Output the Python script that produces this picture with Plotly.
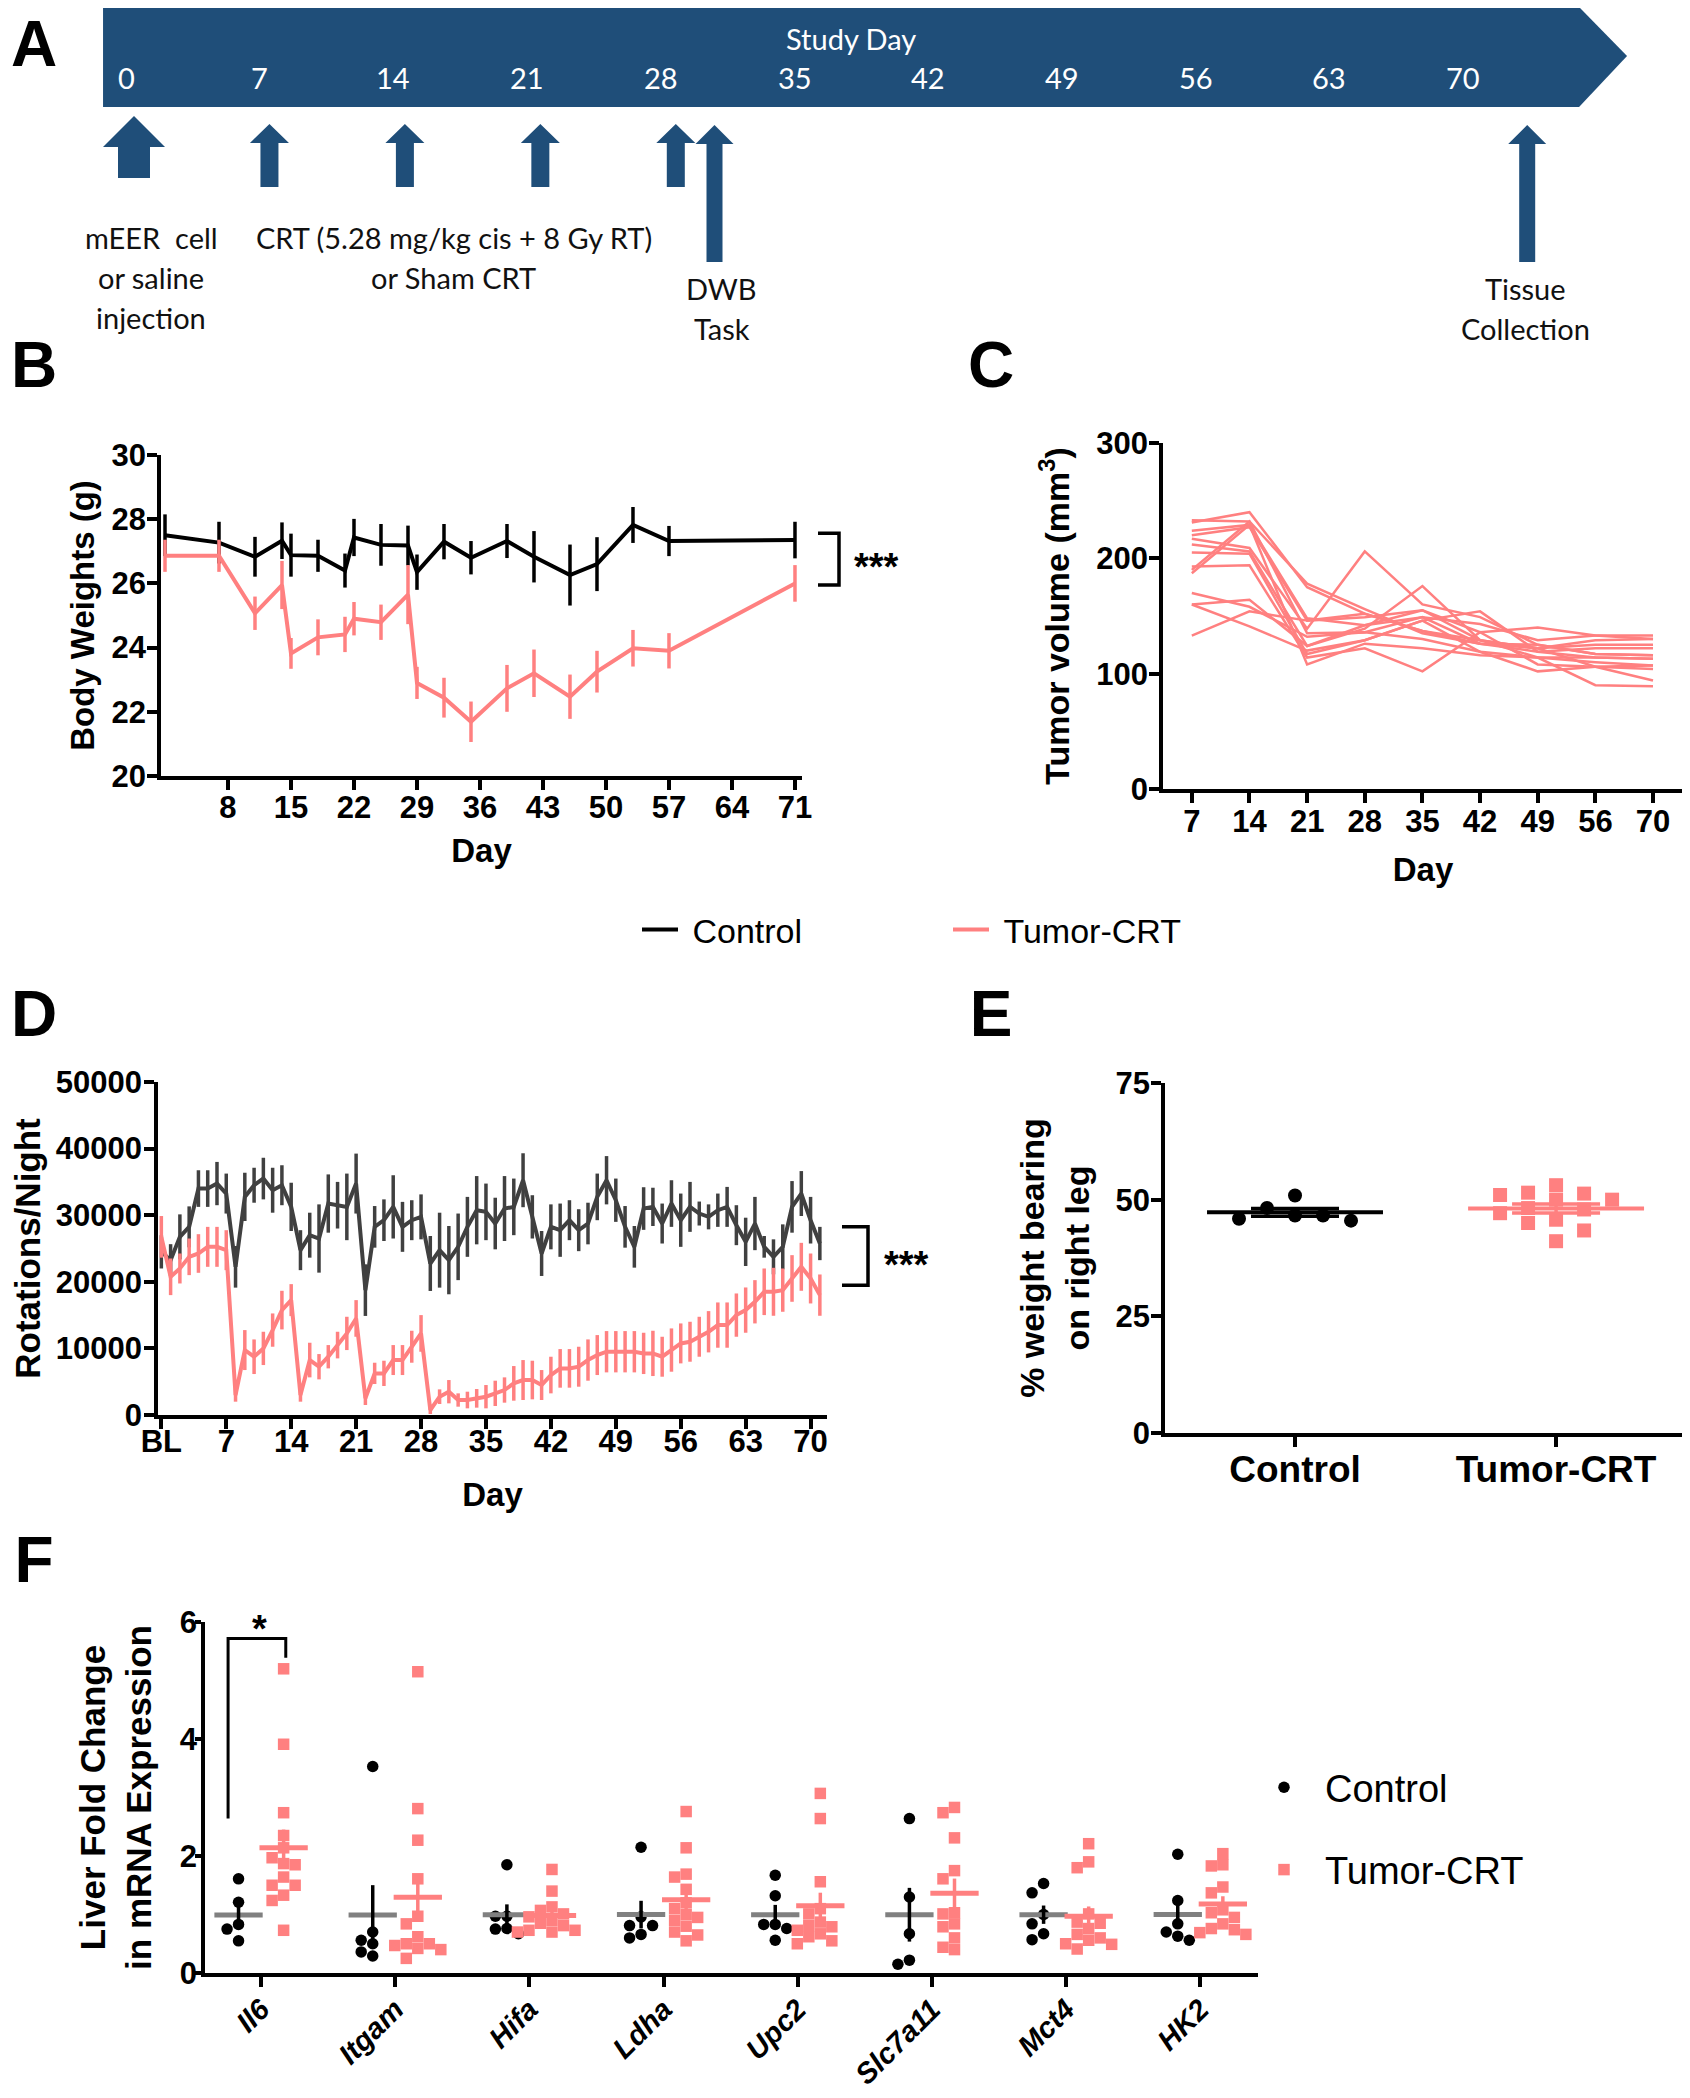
import numpy as np
import plotly.graph_objects as go

W, H = 1690, 2098
OFF = 8                       # browser body margin
FW, FH = W - OFF, H - OFF     # figure size so the page fits the window
PINK = '#FF8080'
DARK = '#404040'
GRAY = '#808080'
BLUE = '#1F4E79'
FONT = 'Liberation Sans, Arial, sans-serif'
NB = '\u00a0'

# ---------------- data ----------------
# A: study timeline (days)
timeline_days = [0, 7, 14, 21, 28, 35, 42, 49, 56, 63, 70]
injection_day = 0
crt_days = [7, 14, 21, 28]
dwb_day = 30
tissue_day = 72

# B: body weights (g), mean and SEM
bw_days = [1, 7, 11, 14, 15, 18, 21, 22, 25, 28, 29, 32, 35, 39, 42, 46, 49, 53, 57, 71]
bw_ctrl = [27.5, 27.27, 26.83, 27.33, 26.88, 26.86, 26.4, 27.43, 27.2, 27.18,
           26.35, 27.3, 26.8, 27.32, 26.83, 26.26, 26.6, 27.82, 27.32, 27.35]
bw_ctrl_sem = [0.65, 0.65, 0.62, 0.57, 0.67, 0.5, 0.53, 0.58, 0.65, 0.62,
               0.55, 0.55, 0.52, 0.53, 0.8, 0.95, 0.84, 0.56, 0.47, 0.57]
bw_tumor = [26.86, 26.86, 25.07, 25.95, 23.82, 24.32, 24.41, 24.9, 24.79, 25.65,
            22.9, 22.44, 21.69, 22.73, 23.2, 22.47, 23.25, 23.98, 23.9, 26.0]
bw_tumor_sem = [0.5, 0.5, 0.52, 0.75, 0.48, 0.56, 0.55, 0.52, 0.55, 0.92,
                0.5, 0.62, 0.63, 0.73, 0.74, 0.69, 0.65, 0.57, 0.55, 0.57]

# C: individual tumor volumes (mm3)
tv_days = ['7', '14', '21', '28', '35', '42', '49', '56', '70']
tumor_volumes = [
    [233, 232, 178, 156, 135, 126, 119, 122, 122],
    [231, 240, 175, 152, 137, 129, 122, 125, 125],
    [224, 229, 148, 142, 149, 143, 129, 133, 133],
    [220, 227, 146, 149, 155, 136, 140, 133, 130],
    [217, 209, 139, 206, 160, 149, 125, 117, 116],
    [212, 206, 124, 139, 176, 129, 114, 110, 107],
    [205, 204, 117, 129, 146, 154, 119, 114, 113],
    [193, 194, 114, 122, 102, 136, 108, 106, 104],
    [190, 232, 135, 136, 130, 119, 102, 106, 107],
    [187, 229, 108, 126, 122, 116, 114, 90, 89],
    [170, 158, 132, 136, 149, 126, 122, 129, 130],
    [160, 164, 124, 142, 155, 129, 122, 106, 94],
    [133, 154, 146, 152, 137, 126, 125, 117, 116],
    [160, 141, 120, 129, 146, 119, 114, 114, 113],
]

# D: wheel rotations per night, mean and SEM (day 0 = baseline)
wheel_days = list(range(72))
wheel_tickvals = [0, 7, 14, 21, 28, 35, 42, 49, 56, 63, 70]
wheel_ticktext = ['BL', '7', '14', '21', '28', '35', '42', '49', '56', '63', '70']
wheel_ctrl = [24500, 23250, 26750, 28250, 34000, 34000, 34750, 33250, 22250, 32750,
              34500, 35500, 33750, 34500, 31250, 24750, 27000, 26500, 31750, 31500,
              31250, 34750, 18750, 28250, 29250, 31250, 28250, 29250, 29750, 22750,
              24750, 23250, 25250, 28250, 30750, 30500, 28750, 31000, 31250, 35250,
              29750, 24250, 28250, 27750, 29250, 27750, 28750, 32750, 35250, 32250,
              28250, 25250, 31000, 31250, 28750, 31750, 29250, 31250, 30250, 29750,
              30750, 31250, 28500, 26000, 28750, 25250, 23750, 25250, 31250, 33250,
              29250, 25750]
wheel_ctrl_sem = [2500, 2400, 3375, 3075, 2750, 2750, 3250, 3000, 3125, 3625,
                  2625, 3125, 3375, 3000, 3625, 3000, 3375, 5125, 4375, 3500,
                  5000, 4500, 3875, 3125, 3125, 4750, 3750, 3000, 3375, 4125,
                  5625, 5125, 5000, 4500, 5125, 4250, 3875, 4875, 4250, 4050,
                  3250, 3375, 3375, 4000, 3000, 3150, 3125, 3500, 3625, 3250,
                  3125, 3125, 3200, 2875, 3000, 3500, 4000, 3750, 1800, 1875,
                  2500, 3000, 3000, 3625, 4000, 1625, 2625, 3375, 3875, 3375,
                  3500, 2500]
wheel_tumor = [26750, 20750, 22000, 23750, 24250, 25250, 25250, 24750,
               3000, 9750, 8750, 10000, 12750, 15750, 17250,
               3000, 8250, 7250, 8750, 10500, 12250, 14500,
               2500, 6250, 6250, 8250, 8250, 10250, 12250,
               750, 2750, 3500, 2250, 2250, 2500, 2750, 3250, 3750, 4750, 5250, 5250, 4500,
               6000, 7000, 7000, 7250, 8250, 9000, 9500, 9500, 9500, 9500,
               9250, 9250, 8750, 9750, 10750, 11000, 11750, 12500, 13500, 13500,
               15000, 15750, 17000, 18500, 18500, 18750, 20500, 22250, 20500, 18000]
wheel_tumor_sem = [3125, 2750, 2250, 2750, 2900, 3000, 3000, 3000,
                   1000, 3000, 2600, 2500, 2500, 2900, 2400,
                   1000, 2600, 1900, 1750, 2000, 2500, 2750,
                   1000, 1600, 1900, 2250, 2250, 2400, 2750,
                   600, 1100, 1750, 1000, 1250, 1400, 1750, 1900, 1900, 2600, 3000, 2900, 2250,
                   2750, 2900, 2900, 3000, 3100, 3000, 3100, 3100, 3100, 3100,
                   3100, 3400, 3000, 3250, 3000, 3000, 3000, 3100, 3400, 3400,
                   3250, 3400, 3250, 3500, 3600, 3250, 3500, 3600, 3750, 3100]

# E: dynamic weight bearing (% on right leg)
dwb_groups = ['Control', 'Tumor-CRT']
dwb_ctrl = [50.9, 48.2, 46.6, 46.6, 45.9, 45.5]
dwb_tumor = [53.1, 51.5, 51.3, 51.0, 50.0, 50.0, 48.2, 47.9, 47.1, 45.7, 45.0, 43.4, 41.1]

# F: liver fold change in mRNA expression
genes = ['Il6', 'Itgam', 'Hifa', 'Ldha', 'Upc2', 'Slc7a11', 'Mct4', 'HK2']
liver_ctrl = [
    [1.61, 1.21, 0.83, 0.75, 0.55],
    [3.53, 0.70, 0.56, 0.50, 0.36, 0.29],
    [1.85, 0.97, 0.97, 0.76, 0.75, 0.67],
    [2.15, 0.96, 0.81, 0.81, 0.66, 0.60],
    [1.67, 1.32, 0.83, 0.83, 0.76, 0.56],
    [2.64, 1.30, 0.67, 0.22, 0.15],
    [1.53, 1.37, 1.00, 0.84, 0.67, 0.57],
    [2.03, 1.24, 0.84, 0.70, 0.63, 0.56],
]
liver_tumor = [
    [5.20, 3.91, 2.74, 2.35, 2.14, 1.97, 1.87, 1.85, 1.64, 1.50, 1.50, 1.33, 1.24, 0.73],
    [5.15, 2.81, 2.27, 1.61, 0.97, 0.84, 0.62, 0.50, 0.50, 0.47, 0.42, 0.40, 0.25],
    [1.77, 1.40, 1.13, 1.07, 1.01, 0.96, 0.90, 0.85, 0.81, 0.73, 0.73, 0.70, 0.70],
    [2.76, 2.14, 1.69, 1.64, 1.43, 1.20, 1.10, 1.00, 0.95, 0.90, 0.80, 0.70, 0.65, 0.55],
    [3.07, 2.64, 1.56, 1.10, 1.01, 0.87, 0.81, 0.79, 0.73, 0.67, 0.62, 0.55, 0.50],
    [2.83, 2.74, 2.31, 1.75, 1.61, 1.03, 1.01, 0.84, 0.79, 0.60, 0.44, 0.40],
    [2.21, 1.90, 1.80, 1.01, 0.87, 0.85, 0.76, 0.66, 0.60, 0.56, 0.50, 0.49, 0.41],
    [2.04, 1.85, 1.83, 1.47, 1.37, 1.08, 1.03, 0.95, 0.84, 0.76, 0.74, 0.69, 0.66],
]


# page pixel -> paper fraction
def px_x(x):
    return (x - OFF) / FW


def px_y(y):
    return 1 - (y - OFF) / FH


def dom_x(x0, x1):
    return [px_x(x0), min(1.0, px_x(x1))]


def dom_y(top, bottom):
    return [px_y(bottom), min(1.0, px_y(top))]


def swarm(vals, px_per_unit, diam, step_px, px_per_x):
    # simple column beeswarm: stack overlapping points side by side
    order = sorted(range(len(vals)), key=lambda k: -vals[k])
    cols = {}
    offs = [0.0] * len(vals)
    for k in order:
        v = vals[k]
        for c in [0, -1, 1, -2, 2, -3, 3, -4, 4, -5, 5]:
            if all(abs(v - u) * px_per_unit >= diam for u in cols.get(c, [])):
                break
        cols.setdefault(c, []).append(v)
        offs[k] = c * step_px / px_per_x
    return offs


def mean_sem(v):
    v = np.asarray(v, dtype=float)
    return v.mean(), v.std(ddof=1) / np.sqrt(len(v))


def axis(**kw):
    base = dict(showline=True, linewidth=3.5, linecolor='black', ticks='outside', ticklen=10,
                tickwidth=3.5, tickcolor='black', showgrid=False, zeroline=False,
                tickfont=dict(family=FONT, size=31, color='black', weight='bold'))
    base.update(kw)
    return base


def title(text, size=34, standoff=15):
    return dict(text='<b>' + text + '</b>', font=dict(family=FONT, size=size, color='black'),
                standoff=standoff)


fig = go.Figure()

# ---------------- A: timeline ----------------
PX_DAY = 19.35
banner_x = [-1.6, 74.68, 77.16, 74.68, -1.6, -1.6]
banner_y = [7, 7, 56, 107, 107, 7]
fig.add_trace(go.Scatter(x=banner_x, y=banner_y, mode='lines', fill='toself', fillcolor=BLUE,
                         line=dict(color=BLUE, width=0), xaxis='x6', yaxis='y6',
                         showlegend=False, hoverinfo='skip'))


def arrow(day, top, base, bottom, head_half, shaft_half):
    hw = head_half / PX_DAY
    sw = shaft_half / PX_DAY
    xs = [day, day + hw, day + sw, day + sw, day - sw, day - sw, day - hw, day]
    ys = [top, base, base, bottom, bottom, base, base, top]
    return go.Scatter(x=xs, y=ys, mode='lines', fill='toself', fillcolor=BLUE,
                      line=dict(color=BLUE, width=0), xaxis='x6', yaxis='y6',
                      showlegend=False, hoverinfo='skip')


fig.add_trace(arrow(injection_day, 116, 147, 178, 31, 16))
for d in crt_days:
    fig.add_trace(arrow(d, 124, 143, 187, 19.5, 9))
for d in [dwb_day, tissue_day]:
    fig.add_trace(arrow(d, 125, 144, 262, 19, 8))

annotations = []
LATO = 'Lato, Open Sans, sans-serif'
for d in timeline_days:
    annotations.append(dict(x=d, y=77, xref='x6', yref='y6', text=str(d), showarrow=False,
                            xanchor='center', yanchor='middle', xshift=-8 - 0.25 * d,
                            font=dict(family=LATO, size=29, color='white')))
annotations.append(dict(x=px_x(851), y=38, xref='paper', yref='y6', text='Study Day', showarrow=False,
                        xanchor='center', yanchor='middle',
                        font=dict(family=LATO, size=29, color='white')))
timeline_text = [
    (injection_day, 17, 237, ['mEER  cell', 'or saline', 'injection']),
    (crt_days[1], 49, 237, ['CRT (5.28 mg/kg cis + 8 Gy RT)', 'or Sham CRT']),
    (dwb_day, 7, 288, ['DWB', 'Task']),
    (tissue_day, -2, 288, ['Tissue', 'Collection']),
]
for d, shift, y0, lines in timeline_text:
    for k, s in enumerate(lines):
        annotations.append(dict(x=d, y=y0 + 40 * k, xref='x6', yref='y6', text=s,
                                showarrow=False, xshift=shift, xanchor='center', yanchor='middle',
                                font=dict(family=LATO, size=29, color='#111111')))

# ---------------- B: body weights ----------------
fig.add_trace(go.Scatter(x=bw_days, y=bw_ctrl, mode='lines', name=NB + 'Control', legend='legend',
                         line=dict(color='black', width=4),
                         error_y=dict(type='data', array=bw_ctrl_sem, width=0, thickness=3.5,
                                      color='black'),
                         xaxis='x', yaxis='y'))
fig.add_trace(go.Scatter(x=bw_days, y=bw_tumor, mode='lines', name=NB + 'Tumor-CRT', legend='legend',
                         line=dict(color=PINK, width=4),
                         error_y=dict(type='data', array=bw_tumor_sem, width=0, thickness=3.5,
                                      color=PINK),
                         xaxis='x', yaxis='y'))

# ---------------- C: tumor volumes ----------------
for vol in tumor_volumes:
    fig.add_trace(go.Scatter(x=tv_days, y=vol, mode='lines', line=dict(color=PINK, width=2.5),
                             showlegend=False, xaxis='x2', yaxis='y2'))

# ---------------- D: wheel running ----------------
fig.add_trace(go.Scatter(x=wheel_days, y=wheel_ctrl, mode='lines', showlegend=False,
                         line=dict(color=DARK, width=4),
                         error_y=dict(type='data', array=wheel_ctrl_sem, width=0, thickness=3.5,
                                      color=DARK),
                         xaxis='x3', yaxis='y3'))
fig.add_trace(go.Scatter(x=wheel_days, y=wheel_tumor, mode='lines', showlegend=False,
                         line=dict(color=PINK, width=4),
                         error_y=dict(type='data', array=wheel_tumor_sem, width=0, thickness=3.5,
                                      color=PINK),
                         xaxis='x3', yaxis='y3'))

# ---------------- E: weight bearing ----------------
E_PXY = 350 / 75.0
E_PXX = 261.0
for gi, (vals, col, sym, size) in enumerate([(dwb_ctrl, 'black', 'circle', 14),
                                             (dwb_tumor, PINK, 'square', 14)]):
    offs = swarm(vals, E_PXY, 14, 28, E_PXX)
    fig.add_trace(go.Scatter(x=[gi + o for o in offs], y=vals, mode='markers', showlegend=False,
                             marker=dict(color=col, symbol=sym, size=size, line=dict(width=0)),
                             xaxis='x4', yaxis='y4'))
    m, s = mean_sem(vals)
    fig.add_trace(go.Scatter(x=[gi - 0.337, gi + 0.337], y=[m, m], mode='lines', showlegend=False,
                             line=dict(color=col, width=4), xaxis='x4', yaxis='y4'))
    fig.add_trace(go.Scatter(x=[gi], y=[m], mode='markers', showlegend=False,
                             marker=dict(size=1, opacity=0),
                             error_y=dict(type='data', array=[s], width=44, thickness=3.5, color=col),
                             xaxis='x4', yaxis='y4'))

# ---------------- F: liver mRNA ----------------
F_PXY = 351 / 6.0
F_PXX = 134.1
F_OFF = 0.168
groups = [(liver_ctrl, 'black', 'circle', 'Control', -F_OFF, GRAY, 'black'),
          (liver_tumor, PINK, 'square', 'Tumor-CRT', F_OFF, PINK, PINK)]
for data, col, sym, name, off, mcol, ecol in groups:
    xs, ys, mx, my, ex, ey, es = [], [], [], [], [], [], []
    for i, vals in enumerate(data):
        for v, o in zip(vals, swarm(vals, F_PXY, 11, 11.5, F_PXX)):
            xs.append(i + off + o)
            ys.append(v)
        m, s = mean_sem(vals)
        mx += [i + off - 0.18, i + off + 0.18, None]
        my += [m, m, None]
        ex.append(i + off)
        ey.append(m)
        es.append(s)
    fig.add_trace(go.Scatter(x=xs, y=ys, mode='markers', name=name, legend='legend2',
                             legendgroup=name,
                             marker=dict(color=col, symbol=sym, size=11.5, line=dict(width=0)),
                             xaxis='x5', yaxis='y5'))
    fig.add_trace(go.Scatter(x=mx, y=my, mode='lines', showlegend=False,
                             line=dict(color=mcol, width=5), xaxis='x5', yaxis='y5'))
    fig.add_trace(go.Scatter(x=ex, y=ey, mode='markers', showlegend=False,
                             marker=dict(size=1, opacity=0),
                             error_y=dict(type='data', array=es, width=0, thickness=3.5, color=ecol),
                             xaxis='x5', yaxis='y5'))

# ---------------- panel letters & significance ----------------
for letter, x, y in [('A', 34, 44), ('B', 34, 365), ('C', 991, 365),
                     ('D', 34, 1014), ('E', 991, 1014), ('F', 34, 1560)]:
    annotations.append(dict(x=px_x(x), y=px_y(y), xref='paper', yref='paper', text='<b>' + letter + '</b>',
                            xanchor='center', yanchor='middle', showarrow=False, width=52, height=56,
                            font=dict(family=FONT, size=64, color='black')))

annotations.append(dict(x=px_x(876), y=26.5, xref='paper', yref='y', text='<b>***</b>', showarrow=False,
                        xanchor='center', yanchor='middle', font=dict(family=FONT, size=38, color='black')))
annotations.append(dict(x=px_x(906), y=22500, xref='paper', yref='y3', text='<b>***</b>', showarrow=False,
                        xanchor='center', yanchor='middle', font=dict(family=FONT, size=38, color='black')))
annotations.append(dict(x=-0.015, y=5.88, xref='x5', yref='y5', text='<b>*</b>', showarrow=False,
                        xanchor='center', yanchor='middle', font=dict(family=FONT, size=38, color='black')))

shapes = [
    dict(type='path', xref='paper', yref='y',
         path='M {a},27.56 L {b},27.56 L {b},25.95 L {a},25.95'.format(a=px_x(818), b=px_x(839)),
         line=dict(color='black', width=3.5)),
    dict(type='path', xref='paper', yref='y3',
         path='M {a},28250 L {b},28250 L {b},19500 L {a},19500'.format(a=px_x(842), b=px_x(868)),
         line=dict(color='black', width=3.5)),
    dict(type='path', xref='x5', yref='y5',
         path='M -0.246,2.64 L -0.246,5.72 L 0.184,5.72 L 0.184,5.39',
         line=dict(color='black', width=3)),
]

fig.update_layout(
    width=FW, height=FH, margin=dict(l=0, r=0, t=0, b=0, autoexpand=False),
    paper_bgcolor='white', plot_bgcolor='white',
    font=dict(family=FONT, color='black'),
    annotations=annotations, shapes=shapes,
    # B
    xaxis=axis(domain=dom_x(161, 802), range=[0.556, 71.78], tickvals=list(range(8, 72, 7)),
               anchor='y', ticklabelstandoff=-9, title=title('Day', 33, 16)),
    yaxis=axis(domain=dom_y(455, 776), range=[20, 30], dtick=2, anchor='x', ticklabelstandoff=-5,
               title=title('Body Weights (g)', 33, 8)),
    # C
    xaxis2=axis(domain=dom_x(1163, 1683), type='category', range=[-0.5, 8.52], anchor='y2',
                ticklabelstandoff=-8, title=title('Day', 33, 21)),
    yaxis2=axis(domain=dom_y(443, 789), range=[0, 300], dtick=100, anchor='x2', ticklabelstandoff=-5,
                title=title('Tumor volume (mm<sup>3</sup>)', 34, 17)),
    # D
    xaxis3=axis(domain=dom_x(158, 827), range=[-0.36, 71.77], tickvals=wheel_tickvals,
                ticktext=wheel_ticktext, anchor='y3', ticklabelstandoff=-14,
                title=title('Day', 33, 26)),
    yaxis3=axis(domain=dom_y(1082, 1415), range=[0, 50000], dtick=10000, tickformat='d',
                anchor='x3', ticklabelstandoff=-4, title=title('Rotations/Night', 35, 14)),
    # E
    xaxis4=axis(domain=dom_x(1165, 1690), range=[-0.498, 1.513], tickvals=[0, 1],
                ticktext=dwb_groups, anchor='y4', ticklabelstandoff=-9,
                tickfont=dict(family=FONT, size=37, color='black', weight='bold')),
    yaxis4=axis(domain=dom_y(1083, 1433), range=[0, 75], dtick=25, anchor='x4', ticklabelstandoff=-5,
                title=title('% weight bearing<br>on right leg', 34, 17)),
    # F
    xaxis5=axis(domain=dom_x(205, 1258), range=[-0.418, 7.43], tickvals=list(range(len(genes))),
                ticktext=genes, tickangle=-45, anchor='y5', ticklabelstandoff=-6,
                tickfont=dict(family=FONT, size=29, color='black', weight='bold', style='italic')),
    yaxis5=axis(domain=dom_y(1622, 1973), range=[0, 6], dtick=2, anchor='x5', ticklen=6,
                ticklabelstandoff=-8,
                title=title('Liver Fold Change<br>in mRNA Expression', 35, 19)),
    # A
    xaxis6=dict(domain=[0, 1], range=[(OFF - 134) / PX_DAY, (W - 134) / PX_DAY], visible=False,
                anchor='y6'),
    yaxis6=dict(domain=[px_y(350), 1], range=[350, OFF], visible=False, anchor='x6'),
    legend=dict(orientation='h', x=px_x(637), y=px_y(930), xanchor='left', yanchor='middle',
                font=dict(family=FONT, size=34, color='black'), entrywidth=260,
                entrywidthmode='pixels', itemwidth=36, bgcolor='rgba(0,0,0,0)'),
    legend2=dict(x=px_x(1243), y=px_y(1756), xanchor='left', yanchor='top',
                 font=dict(family=FONT, size=38, color='black'), tracegroupgap=30,
                 itemwidth=72, bgcolor='rgba(0,0,0,0)'),
)

fig.write_html("out.html")
